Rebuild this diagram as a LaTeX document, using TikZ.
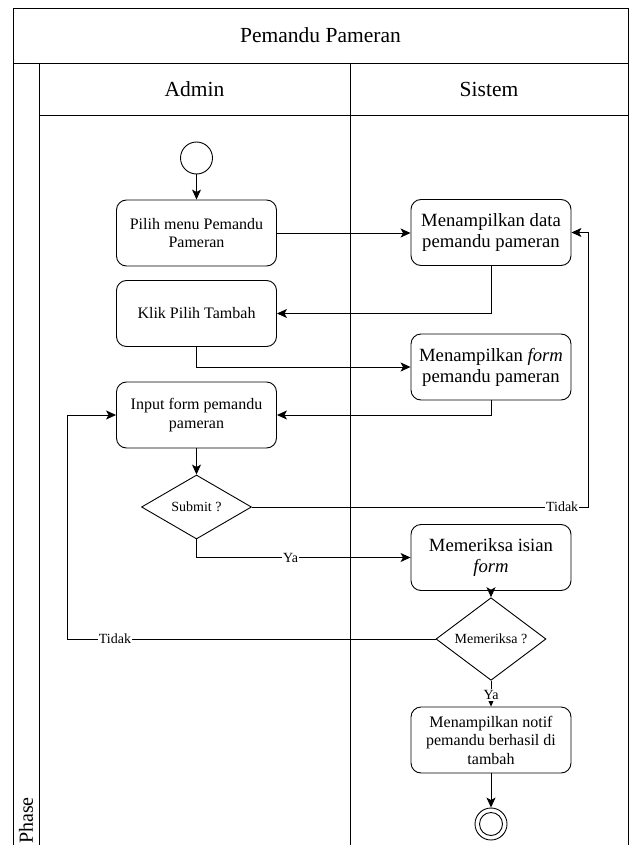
\documentclass[tikz,border=0pt]{standalone}
\usepackage{fontspec}
\setmainfont{Liberation Serif}
\usetikzlibrary{shapes.geometric,arrows.meta}

\begin{document}
\begin{tikzpicture}[x=1pt,y=-1pt,
  lane/.style={line width=0.9pt},
  act/.style={draw, line width=0.9pt, rounded corners=10pt, minimum width=160pt,
    minimum height=66pt, align=center, inner sep=2pt},
  actL/.style={act, font=\fontsize{16}{18.5}\selectfont},
  actR/.style={act, font=\fontsize{18.7}{21}\selectfont},
  decision/.style={draw, line width=0.9pt, diamond, inner sep=0pt, minimum width=110pt,
    minimum height=64pt, font=\fontsize{14}{16}\selectfont},
  arr/.style={draw, line width=0.9pt, -{Stealth[length=10pt,width=9pt,inset=2.5pt]}},
  lbl/.style={fill=white, inner sep=1pt, font=\fontsize{14}{16}\selectfont},
  head/.style={font=\fontsize{21.5}{24}\selectfont}
]
\useasboundingbox (0,0) rectangle (641,845);

% swimlane frame
\draw[lane] (13,845) -- (13,8) -- (628,8) -- (628,845);
\draw[lane] (13,63) -- (628,63);
\draw[lane] (39,63) -- (39,845);
\draw[lane] (350,63) -- (350,845);
\draw[lane] (39,115) -- (628,115);

\node[head] (title) at (320.5,35) {Pemandu Pameran};
\node[head] (admin) at (194.5,89) {Admin};
\node[head] (sistem) at (489,89) {Sistem};
\node[rotate=90, anchor=west, inner sep=0pt, font=\fontsize{20}{22}\selectfont] (phase) at (26,844) {Phase};

% activity nodes
\node[draw, circle, line width=0.9pt, minimum size=32pt, inner sep=0pt] (start) at (196.5,158) {};
\node[actL] (pilih) at (196.5,233) {Pilih menu Pemandu\\Pameran};
\node[actR] (data) at (491,232.5) {Menampilkan data\\pemandu pameran};
\node[actL] (klik) at (196.5,313.5) {Klik Pilih Tambah};
\node[actR] (form) at (491,367) {Menampilkan \textit{form}\\pemandu pameran};
\node[actL] (input) at (196.5,415) {Input form pemandu\\pameran};
\node[decision] (submit) at (196.5,507) {Submit ?};
\node[actR] (isian) at (491,557.5) {Memeriksa isian\\\textit{form}};
\node[decision, minimum height=65pt] (cek) at (491,639) {Memeriksa ?};
\node[actL] (notif) at (491,740) {Menampilkan notif\\pemandu berhasil di\\tambah};
\node[draw, circle, line width=0.9pt, minimum size=32pt, inner sep=0pt] (end) at (491,824) {};
\node[draw, circle, line width=0.9pt, minimum size=23pt, inner sep=0pt] (endin) at (end) {};

\coordinate (rt) at (588,0);
\coordinate (lt) at (67,0);

% flows
\draw[arr] (start) -- (pilih);
\draw[arr] (pilih.east) -- (pilih.east -| data.west);
\draw[arr] (data.south) |- (klik.east);
\draw[arr] (klik.south) |- (form.west);
\draw[arr] (form.south) |- (input.east);
\draw[arr] (input) -- (submit);
\draw[arr] (submit.east) -- node[lbl, pos=0.923] {Tidak} (submit.east -| rt) |- (data.east);
\draw[arr] (submit.south) |- node[lbl, pos=0.72] {Ya} (isian.west);
\draw[arr] (isian) -- (cek);
\draw[arr] (cek.west) -- node[lbl, pos=0.87] {Tidak} (cek.west -| lt) |- (input.west);
\draw[arr] (cek) -- node[lbl, pos=0.55] {Ya} (notif);
\draw[arr] (notif) -- (end);
\end{tikzpicture}
\end{document}
